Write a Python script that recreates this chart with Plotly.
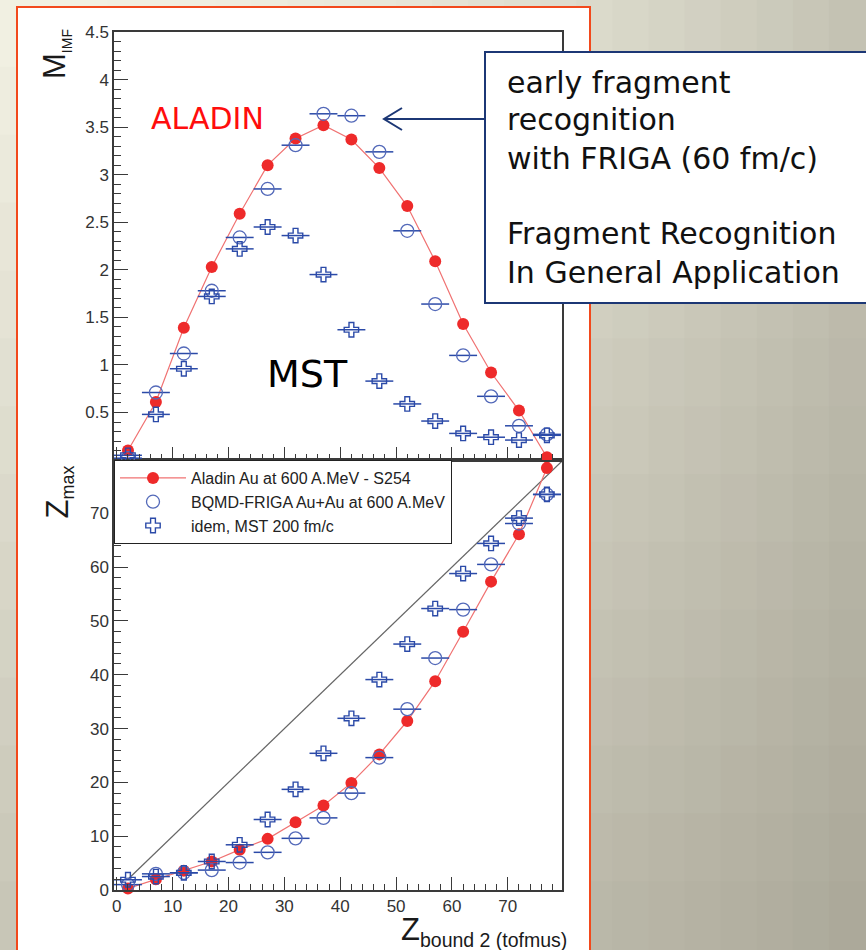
import plotly.graph_objects as go

# ---------------- data ----------------
zbound_bins = [2, 7, 12, 17, 22, 27, 32, 37, 42, 47, 52, 57, 62, 67, 72, 77]
bin_halfwidth = [2.5, 2.5, 2.5, 2.5, 2.5, 2.5, 2.5, 2.5, 2.5, 2.5, 2.5, 2.5, 2.5, 2.5, 2.5, 2.5]

mimf_aladin = [0.10, 0.61, 1.39, 2.03, 2.59, 3.10, 3.38, 3.52, 3.37, 3.07, 2.67, 2.09, 1.43, 0.92, 0.52, 0.03]
mimf_friga = [0.02, 0.71, 1.12, 1.78, 2.34, 2.85, 3.31, 3.64, 3.62, 3.24, 2.41, 1.64, 1.10, 0.67, 0.36, 0.27]
mimf_mst = [0.05, 0.48, 0.96, 1.72, 2.22, 2.45, 2.36, 1.95, 1.37, 0.83, 0.59, 0.41, 0.28, 0.24, 0.21, 0.26]

zmax_aladin = [0.3, 2.0, 3.6, 5.3, 7.5, 9.5, 12.6, 15.7, 19.9, 25.2, 31.4, 38.8, 48.0, 57.3, 66.1, 78.4]
zmax_friga = [1.0, 3.0, 3.2, 3.7, 5.1, 7.0, 9.6, 13.4, 18.0, 24.6, 33.6, 43.1, 52.1, 60.5, 68.1, 73.5]
zmax_mst = [1.9, 2.5, 3.2, 5.3, 8.4, 13.1, 18.7, 25.4, 31.9, 39.1, 45.7, 52.3, 58.8, 64.4, 69.1, 73.5]

diag_x = [2, 80]
diag_y = [2, 80]

names = ["Aladin Au at 600 A.MeV - S254",
         "BQMD-FRIGA Au+Au at 600 A.MeV",
         "idem, MST 200 fm/c"]

box_lines = ["early fragment", "recognition", "with FRIGA (60 fm/c)",
             "Fragment Recognition", "In General Application"]

# ---------------- geometry helpers ----------------
W, H = 866, 950
L, R, T, B = 114, 562, 32, 890


def fx(p):
    return (p - L) / (R - L)


def fy(p):
    return (B - p) / (B - T)


SPLIT = fy(460)

RED = "#EE2A2A"
REDLINE = "#F07272"
BLUE = "#2B4AA8"
BLUE_C = "#5369B9"
AXC = "#3A3A3A"
TICKFONT = dict(family="Liberation Sans, Arial, sans-serif", size=17, color="#333333")

fig = go.Figure()

# diagonal reference line in the lower panel
fig.add_trace(go.Scatter(x=diag_x, y=diag_y, mode="lines", xaxis="x", yaxis="y2",
                         line=dict(color="#666666", width=1.2), showlegend=False,
                         hoverinfo="skip"))

panels = [("x2", "y", mimf_aladin, mimf_friga, mimf_mst, True),
          ("x", "y2", zmax_aladin, zmax_friga, zmax_mst, False)]

for xa, ya, al, fr, ms, leg in panels:
    fig.add_trace(go.Scatter(
        x=zbound_bins, y=al, mode="lines+markers", xaxis=xa, yaxis=ya,
        name=names[0], legendgroup="a", showlegend=leg, cliponaxis=False,
        line=dict(color=REDLINE, width=1.2),
        marker=dict(symbol="circle", size=12, color=RED)))
    fig.add_trace(go.Scatter(
        x=zbound_bins, y=fr, mode="markers", xaxis=xa, yaxis=ya,
        name=names[1], legendgroup="b", showlegend=leg, cliponaxis=False,
        error_x=dict(type="data", array=bin_halfwidth, color=BLUE, thickness=1.5, width=0),
        marker=dict(symbol="circle-open", size=13, color=BLUE_C, line=dict(width=1.3, color=BLUE_C))))
    fig.add_trace(go.Scatter(
        x=zbound_bins, y=ms, mode="markers", xaxis=xa, yaxis=ya,
        name=names[2], legendgroup="c", showlegend=leg, cliponaxis=False,
        error_x=dict(type="data", array=bin_halfwidth, color=BLUE, thickness=1.5, width=0),
        marker=dict(symbol="cross-open", size=12, color=BLUE, line=dict(width=1.4, color=BLUE))))

# ---------------- background shapes ----------------
shapes = []
TLc = (243, 242, 228)
TRc = (195, 193, 178)
BLc = (198, 196, 181)
BRc = (170, 167, 152)
NC, NR = 24, 14
for i in range(NC):
    for j in range(NR):
        u = (i + 0.5) / NC
        v = (j + 0.5) / NR
        uu = u * u
        col = tuple(int(round((TLc[k] * (1 - uu) + TRc[k] * uu) * (1 - v)
                              + (BLc[k] * (1 - uu) + BRc[k] * uu) * v)) for k in range(3))
        x0 = i * W / NC - 1
        x1 = (i + 1) * W / NC + 1
        y0 = j * H / NR - 1
        y1 = (j + 1) * H / NR + 1
        shapes.append(dict(type="rect", xref="paper", yref="paper",
                           x0=fx(x0), x1=fx(x1), y0=fy(y1), y1=fy(y0),
                           fillcolor="rgb(%d,%d,%d)" % col, line=dict(width=0), layer="below"))

# white panel with orange frame
shapes.append(dict(type="rect", xref="paper", yref="paper",
                   x0=fx(17), x1=fx(590), y0=fy(965), y1=fy(7),
                   fillcolor="white", line=dict(color="#F2491C", width=2), layer="below"))

NAVY = "#1C3775"
# annotation box
shapes.append(dict(type="rect", xref="paper", yref="paper",
                   x0=fx(485), x1=fx(872), y0=fy(303), y1=fy(52),
                   fillcolor="white", line=dict(color=NAVY, width=2), layer="above"))
# arrow
shapes.append(dict(type="line", xref="paper", yref="paper",
                   x0=fx(485), x1=fx(385), y0=fy(119), y1=fy(119),
                   line=dict(color=NAVY, width=2), layer="above"))
shapes.append(dict(type="path", xref="paper", yref="paper",
                   path="M %f,%f L %f,%f L %f,%f" % (fx(402), fy(108), fx(384), fy(119), fx(402), fy(130)),
                   line=dict(color=NAVY, width=2), layer="above"))

# ---------------- annotations ----------------
ann = []
TITLEFONT = dict(family="Liberation Sans, Arial, sans-serif", size=31, color="#1a1a1a")
ann.append(dict(text="M<sub><span style='font-size:14px'>IMF</span></sub>", xref="paper", yref="paper",
                x=fx(56), y=fy(27), xanchor="center", yanchor="top", textangle=-90,
                showarrow=False, font=TITLEFONT))
ann.append(dict(text="Z<sub><span style='font-size:18px'>max</span></sub>", xref="paper", yref="paper",
                x=fx(59), y=fy(464), xanchor="center", yanchor="top", textangle=-90,
                showarrow=False, font=TITLEFONT))
ann.append(dict(text="Z<sub><span style='font-size:19.5px'>bound 2 (tofmus)</span></sub>",
                xref="paper", yref="paper", x=fx(569), y=fy(910),
                xanchor="right", yanchor="top", showarrow=False, font=TITLEFONT))

ann.append(dict(text="ALADIN", xref="paper", yref="paper", x=fx(207), y=fy(118),
                xanchor="center", yanchor="middle", showarrow=False,
                font=dict(family="DejaVu Sans, Verdana, sans-serif", size=30, color="#FF0D0D")))
ann.append(dict(text="MST", xref="paper", yref="paper", x=fx(307), y=fy(374),
                xanchor="center", yanchor="middle", showarrow=False,
                font=dict(family="DejaVu Sans, Verdana, sans-serif", size=38, color="#000000")))

box_y = [82, 120, 158, 233, 272]
for txt, yy in zip(box_lines, box_y):
    ann.append(dict(text=txt, xref="paper", yref="paper", x=fx(505), y=fy(yy),
                    xanchor="left", yanchor="middle", showarrow=False,
                    font=dict(family="DejaVu Sans, Verdana, sans-serif", size=30, color="#111111")))

axis_common = dict(showline=True, linecolor=AXC, linewidth=1.5, mirror=True,
                   ticks="inside", tickcolor=AXC, tickwidth=1.3, showgrid=False,
                   zeroline=False, tickfont=TICKFONT)

fig.update_layout(
    width=W, height=H,
    margin=dict(l=L, r=W - R, t=T, b=H - B),
    paper_bgcolor="rgb(210,208,194)",
    plot_bgcolor="rgba(0,0,0,0)",
    shapes=shapes,
    annotations=ann,
    xaxis=dict(domain=[0, 1], anchor="y2", range=[-0.5, 79.7], tick0=0, dtick=10, ticklen=13,
               minor=dict(ticks="inside", ticklen=6, tick0=0, dtick=2, tickcolor=AXC, tickwidth=1.2),
               **axis_common),
    xaxis2=dict(domain=[0, 1], anchor="y", matches="x", range=[-0.5, 79.7], tick0=0, dtick=10,
                ticklen=13, showticklabels=False,
                minor=dict(ticks="inside", ticklen=6, tick0=0, dtick=2, tickcolor=AXC, tickwidth=1.2),
                **axis_common),
    yaxis=dict(domain=[SPLIT, 1], anchor="x2", range=[0.0005, 4.5], tick0=0, dtick=0.5, ticklen=14,
               minor=dict(ticks="inside", ticklen=7, tick0=0, dtick=0.1, tickcolor=AXC, tickwidth=1.2),
               **axis_common),
    yaxis2=dict(domain=[0, SPLIT], anchor="x", range=[0, 79.9], tick0=0, dtick=10, ticklen=14,
                minor=dict(ticks="inside", ticklen=7, tick0=0, dtick=2, tickcolor=AXC, tickwidth=1.2),
                **axis_common),
    legend=dict(x=0, xanchor="left", y=SPLIT, yanchor="top", bgcolor="white",
                bordercolor="#222222", borderwidth=1, itemwidth=66, tracegroupgap=5,
                traceorder="normal",
                font=dict(family="Liberation Sans, Arial, sans-serif", size=16, color="#222222")),
    showlegend=True,
)

fig.write_html("out.html")
